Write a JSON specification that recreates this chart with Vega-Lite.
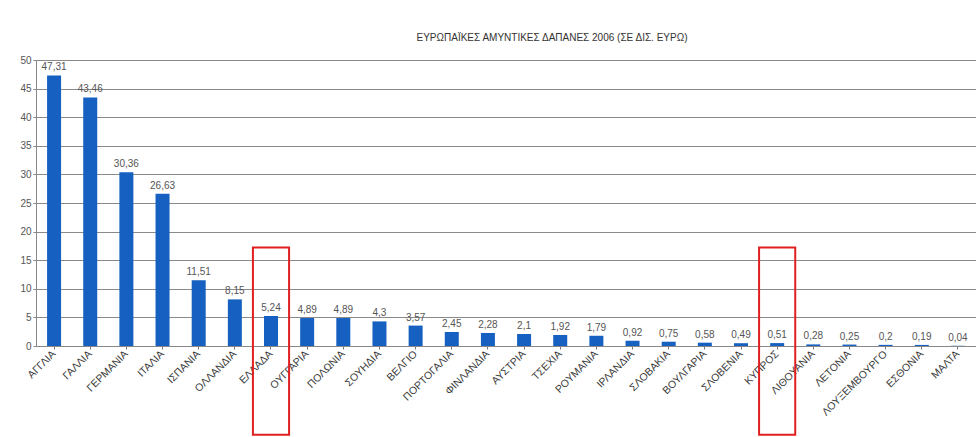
{
  "$schema": "https://vega.github.io/schema/vega-lite/v6.json",
  "autosize": "none",
  "padding": {"left": 36, "top": 60, "right": 0, "bottom": 91},
  "width": 940,
  "height": 286,
  "background": "white",
  "title": {
    "text": "ΕΥΡΩΠΑΪΚΕΣ ΑΜΥΝΤΙΚΕΣ ΔΑΠΑΝΕΣ 2006 (ΣΕ ΔΙΣ. ΕΥΡΩ)",
    "anchor": "middle",
    "dx": 46,
    "offset": 12,
    "fontSize": 10,
    "fontWeight": "normal",
    "font": "Liberation Sans",
    "color": "#333333"
  },
  "data": {
    "values": [
      {"country": "ΑΓΓΛΙΑ", "value": 47.31, "lbl": "47,31"},
      {"country": "ΓΑΛΛΙΑ", "value": 43.46, "lbl": "43,46"},
      {"country": "ΓΕΡΜΑΝΙΑ", "value": 30.36, "lbl": "30,36"},
      {"country": "ΙΤΑΛΙΑ", "value": 26.63, "lbl": "26,63"},
      {"country": "ΙΣΠΑΝΙΑ", "value": 11.51, "lbl": "11,51"},
      {"country": "ΟΛΛΑΝΔΙΑ", "value": 8.15, "lbl": "8,15"},
      {"country": "ΕΛΛΑΔΑ", "value": 5.24, "lbl": "5,24", "box": true},
      {"country": "ΟΥΓΓΑΡΙΑ", "value": 4.89, "lbl": "4,89"},
      {"country": "ΠΟΛΩΝΙΑ", "value": 4.89, "lbl": "4,89"},
      {"country": "ΣΟΥΗΔΙΑ", "value": 4.3, "lbl": "4,3"},
      {"country": "ΒΕΛΓΙΟ", "value": 3.57, "lbl": "3,57"},
      {"country": "ΠΟΡΤΟΓΑΛΙΑ", "value": 2.45, "lbl": "2,45"},
      {"country": "ΦΙΝΛΑΝΔΙΑ", "value": 2.28, "lbl": "2,28"},
      {"country": "ΑΥΣΤΡΙΑ", "value": 2.1, "lbl": "2,1"},
      {"country": "ΤΣΕΧΙΑ", "value": 1.92, "lbl": "1,92"},
      {"country": "ΡΟΥΜΑΝΙΑ", "value": 1.79, "lbl": "1,79"},
      {"country": "ΙΡΛΑΝΔΙΑ", "value": 0.92, "lbl": "0,92"},
      {"country": "ΣΛΟΒΑΚΙΑ", "value": 0.75, "lbl": "0,75"},
      {"country": "ΒΟΥΛΓΑΡΙΑ", "value": 0.58, "lbl": "0,58"},
      {"country": "ΣΛΟΒΕΝΙΑ", "value": 0.49, "lbl": "0,49"},
      {"country": "ΚΥΠΡΟΣ", "value": 0.51, "lbl": "0,51", "box": true},
      {"country": "ΛΙΘΟΥΑΝΙΑ", "value": 0.28, "lbl": "0,28"},
      {"country": "ΛΕΤΟΝΙΑ", "value": 0.25, "lbl": "0,25"},
      {"country": "ΛΟΥΞΕΜΒΟΥΡΓΟ", "value": 0.2, "lbl": "0,2"},
      {"country": "ΕΣΘΟΝΙΑ", "value": 0.19, "lbl": "0,19"},
      {"country": "ΜΑΛΤΑ", "value": 0.04, "lbl": "0,04"}
    ]
  },
  "encoding": {
    "x": {
      "field": "country",
      "type": "nominal",
      "sort": null,
      "scale": {"paddingInner": 0, "paddingOuter": 0},
      "axis": {
        "title": null,
        "labelAngle": -45,
        "labelAlign": "right",
        "labelBaseline": "middle",
        "labelFontSize": 10.5,
        "labelColor": "#3a3a3a",
        "labelFont": "Liberation Sans",
        "labelPadding": 3,
        "ticks": true,
        "tickSize": 3,
        "tickColor": "#777777",
        "domainColor": "#888888",
        "grid": false
      }
    },
    "y": {
      "field": "value",
      "type": "quantitative",
      "scale": {"domain": [0, 50], "nice": false},
      "axis": {
        "title": null,
        "values": [0, 5, 10, 15, 20, 25, 30, 35, 40, 45, 50],
        "labelOverlap": false,
        "labelFontSize": 10,
        "labelColor": "#555555",
        "labelFont": "Liberation Sans",
        "grid": true,
        "gridColor": "#8a8a8a",
        "gridWidth": 1.2,
        "domainColor": "#888888",
        "tickColor": "#888888",
        "tickSize": 3
      }
    }
  },
  "layer": [
    {
      "mark": {"type": "bar", "width": 14, "color": "#1560C0"}
    },
    {
      "mark": {"type": "text", "dy": -8, "fontSize": 10, "color": "#555555", "font": "Liberation Sans"},
      "encoding": {
        "text": {"field": "lbl"}
      }
    },
    {
      "transform": [{"filter": "datum.box"}],
      "mark": {"type": "rect", "fill": null, "stroke": "#e02020", "strokeWidth": 2, "clip": false},
      "encoding": {
        "y": {"datum": 17.2, "type": "quantitative"},
        "y2": {"datum": -15.5}
      }
    }
  ]
}
